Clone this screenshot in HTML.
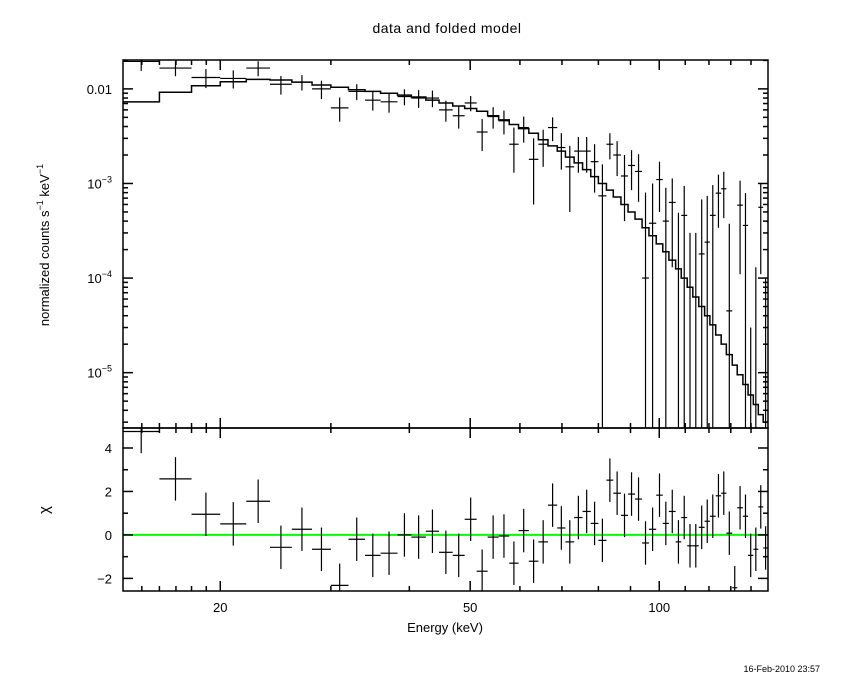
<!DOCTYPE html>
<html><head><meta charset="utf-8">
<style>
body{margin:0;background:#fff;}
svg{display:block;font-family:"Liberation Sans",sans-serif;}
</style></head>
<body>
<svg id="chart" width="850" height="680" viewBox="0 0 850 680" xmlns="http://www.w3.org/2000/svg">
<rect width="850" height="680" fill="#fff"/>
<text x="447" y="33" font-size="14" text-anchor="middle" letter-spacing="0.5">data and folded model</text>
<text transform="translate(49,245) rotate(-90)" font-size="13" text-anchor="middle">normalized counts s<tspan font-size="9" dy="-6">−1</tspan><tspan dy="6"> keV</tspan><tspan font-size="9" dy="-6">−1</tspan></text>
<text transform="translate(49,510) rotate(-90)" font-size="15" text-anchor="middle">χ</text>
<text x="445" y="632" font-size="13" text-anchor="middle">Energy (keV)</text>
<text x="820" y="672" font-size="9" text-anchor="end">16-Feb-2010 23:57</text>
<g id="plot"></g>
</svg>
<script>
const edges=[14,16,18,20,22,24,26,28,30,32,34,36,38.3,40.3,42.5,44.6,46.9,49,51.2,53.3,55.5,57.7,59.7,62,64.2,66.5,68.8,70.9,73.2,75.5,77.8,80,82.4,84.5,86.9,89.2,91.5,93.9,96.3,98.9,101.3,103.6,106.2,108.4,110.8,113.1,115.6,118.1,120.4,123,125.5,127.9,130.7,133.1,135.9,138.5,141.2,143.8,146.4,149];
const model=[0.0073,0.0092,0.0108,0.0119,0.0126,0.0124,0.0118,0.0110,0.0104,0.0098,0.0094,0.0090,0.0086,0.0082,0.0076,0.0071,0.0066,0.0062,0.0058,0.0052,0.0047,0.0042,0.0038,0.0034,0.0029,0.0025,0.0022,0.0019,0.00165,0.0014,0.00118,0.0010,0.00085,0.00072,0.0006,0.0005,0.00042,0.00034,0.00028,0.00023,0.00019,0.000155,0.000125,0.0001,8e-5,6.3e-5,5e-5,4e-5,3.2e-5,2.5e-5,2e-5,1.55e-5,1.2e-5,9.5e-6,7.5e-6,5.8e-6,4.6e-6,3.6e-6,3e-6];
const data=[0.0195,0.0166,0.0132,0.0129,0.0166,0.0112,0.0118,0.0100,0.0063,0.0094,0.0076,0.0073,0.0083,0.0080,0.0080,0.0060,0.0052,0.0071,0.0035,0.0051,0.0046,0.0026,0.0039,0.0018,0.0026,0.0039,0.0024,0.0015,0.0022,0.0022,0.0017,0.00074,0.0026,0.0020,0.0012,0.00155,0.00134,0.0001,0.00038,0.0011,0.0004,0.00063,0,0.00046,-0.0001,-0.0001,0.00018,0.00024,0.00046,0.00079,0.00088,0.000045,-0.0008,0.00059,0.00036,-0.0003,-0.0002,0.00056,-0.0002];
const errs=[0.004,0.003,0.003,0.0028,0.003,0.0025,0.0022,0.0022,0.0018,0.0018,0.0017,0.0017,0.0016,0.0017,0.0016,0.0015,0.0014,0.0013,0.0013,0.0013,0.0013,0.0013,0.0012,0.0012,0.0011,0.0011,0.001,0.001,0.0009,0.0009,0.0009,0.00085,0.0008,0.0008,0.0008,0.0007,0.0007,0.0007,0.00062,0.0006,0.0005,0.0005,0.00049,0.00048,0.0004,0.0004,0.0005,0.0005,0.0005,0.00045,0.00045,0.00033,0.0003,0.00048,0.00043,0.00033,0.00033,0.00045,0.0003];
const chi=[4.76,2.58,0.95,0.51,1.55,-0.57,0.26,-0.66,-2.32,-0.2,-0.94,-0.84,0.0,-0.1,0.17,-0.8,-0.94,0.72,-1.67,-0.1,-0.05,-1.3,0.2,-1.21,-0.32,1.37,0.32,-0.32,0.8,1.08,0.53,-0.25,2.52,1.92,0.9,1.88,1.65,-0.37,0.26,1.83,0.53,1.08,-0.32,0.8,-0.5,-0.5,0.35,0.63,0.86,1.8,1.92,0.08,-2.43,1.25,0.86,-0.94,-0.66,1.29,-0.6];
const xMajor=[20,50,100];
const xMajorLabels=["20","50","100"];
const xMinor=[15,16,17,18,19,30,40,60,70,80,90,110,120,130,140];
const yTopMajor=[1e-5,1e-4,1e-3,1e-2];
const yBotMajor=[-2,0,2,4];
const yBotMinor=[-1,1,3];

const L=123,R=768,T1=60,B1=428,T2=428,B2=591;
const xmin=14,xmax=149,ytmin=2.6e-6,ytmax=0.0202,ybmin=-2.58,ybmax=4.92;
const X=e=>L+(Math.log10(e)-Math.log10(xmin))/(Math.log10(xmax)-Math.log10(xmin))*(R-L);
const YT=v=>B1-(Math.log10(v)-Math.log10(ytmin))/(Math.log10(ytmax)-Math.log10(ytmin))*(B1-T1);
const YB=v=>B2-(v-ybmin)/(ybmax-ybmin)*(B2-T2);
const NS="http://www.w3.org/2000/svg";
const g=document.getElementById('plot');
function mk(tag,at,parent){const el=document.createElementNS(NS,tag);for(const k in at)el.setAttribute(k,at[k]);(parent||g).appendChild(el);return el;}
const clamp=(v,a,b)=>Math.max(a,Math.min(b,v));

// clip paths
const defs=mk('defs',{});
const c1=mk('clipPath',{id:'c1'},defs);mk('rect',{x:L,y:T1,width:R-L,height:B1-T1},c1);
const c2=mk('clipPath',{id:'c2'},defs);mk('rect',{x:L,y:T2,width:R-L,height:B2-T2},c2);

// model histogram
let d='';
for(let i=0;i<model.length;i++){const y=YT(model[i]);d+=(i?'L':'M')+X(edges[i])+' '+y+'L'+X(edges[i+1])+' '+y;}
const mline=mk('path',{d:d,fill:'none',stroke:'#000','stroke-width':1.5,'clip-path':'url(#c1)'});



// data points top
for(let i=0;i<data.length;i++){
  const x0=X(edges[i]),x1=X(edges[i+1]),xc=X(Math.sqrt(edges[i]*edges[i+1]));
  const grp=mk('g',{stroke:'#000','stroke-width':1.2,'clip-path':'url(#c1)'});
  
  
  const hi=data[i]+errs[i],lo=data[i]-errs[i];
  if(hi>0){
    const yh=clamp(YT(hi),T1-2,B1+2);const yl=lo>0?clamp(YT(lo),T1-2,B1+2):B1+2;
    mk('line',{x1:xc,x2:xc,y1:yh,y2:yl},grp);
  }
  if(data[i]>0){const y=clamp(YT(data[i]),T1,B1+2);mk('line',{x1:x0,x2:x1,y1:y,y2:y},grp);}
}

// residuals
const zl=mk('line',{x1:L,x2:R,y1:YB(0),y2:YB(0),stroke:'#00ff00','stroke-width':2});


for(let i=0;i<chi.length;i++){
  const x0=X(edges[i]),x1=X(edges[i+1]),xc=X(Math.sqrt(edges[i]*edges[i+1]));
  const grp=mk('g',{stroke:'#000','stroke-width':1.2,'clip-path':'url(#c2)'});
  
  
  mk('line',{x1:xc,x2:xc,y1:YB(chi[i]+1),y2:YB(chi[i]-1)},grp);
  mk('line',{x1:x0,x2:x1,y1:YB(chi[i]),y2:YB(chi[i])},grp);
}

// frames
const f1=mk('rect',{x:L,y:T1,width:R-L,height:B1-T1,fill:'none',stroke:'#000','stroke-width':1.5});


const f2=mk('rect',{x:L,y:T2,width:R-L,height:B2-T2,fill:'none',stroke:'#000','stroke-width':1.5});



// x ticks
const tk=mk('g',{stroke:'#000','stroke-width':1.5});


[[T1,B1],[T2,B2]].forEach(([t,b])=>{
  xMajor.forEach(e=>{const x=X(e);mk('line',{x1:x,x2:x,y1:t,y2:t+10},tk);mk('line',{x1:x,x2:x,y1:b,y2:b-10},tk);});
  xMinor.forEach(e=>{const x=X(e);mk('line',{x1:x,x2:x,y1:t,y2:t+5},tk);mk('line',{x1:x,x2:x,y1:b,y2:b-5},tk);});
});
xMajor.forEach((e,i)=>{const t=mk('text',{x:X(e),y:612,'font-size':13,'text-anchor':'middle'});t.textContent=xMajorLabels[i];
  
  });

// y ticks top (log)
for(let p=-6;p<=-2;p++){for(let m=1;m<10;m++){const v=m*Math.pow(10,p);if(v<ytmin||v>ytmax)continue;const y=YT(v);const len=m===1?10:5;
  mk('line',{x1:L,x2:L+len,y1:y,y2:y},tk);mk('line',{x1:R,x2:R-len,y1:y,y2:y},tk);}}
yTopMajor.forEach(v=>{const y=YT(v);const t=mk('text',{x:112,y:y+5,'font-size':13,'text-anchor':'end'});
  
  
  const p=Math.round(Math.log10(v));
  if(p===-2){t.textContent='0.01';}else{t.innerHTML='10<tspan font-size="9" dy="-6">'+(p===-3?'−3':p===-4?'−4':'−5')+'</tspan>';}
});
// y ticks bottom
yBotMajor.forEach(v=>{const y=YB(v);mk('line',{x1:L,x2:L+10,y1:y,y2:y},tk);mk('line',{x1:R,x2:R-10,y1:y,y2:y},tk);
  const t=mk('text',{x:112,y:y+5,'font-size':13,'text-anchor':'end'});t.textContent=v<0?'−'+(-v):String(v);
  
  });
yBotMinor.forEach(v=>{const y=YB(v);mk('line',{x1:L,x2:L+5,y1:y,y2:y},tk);mk('line',{x1:R,x2:R-5,y1:y,y2:y},tk);});
</script>
</body></html>
